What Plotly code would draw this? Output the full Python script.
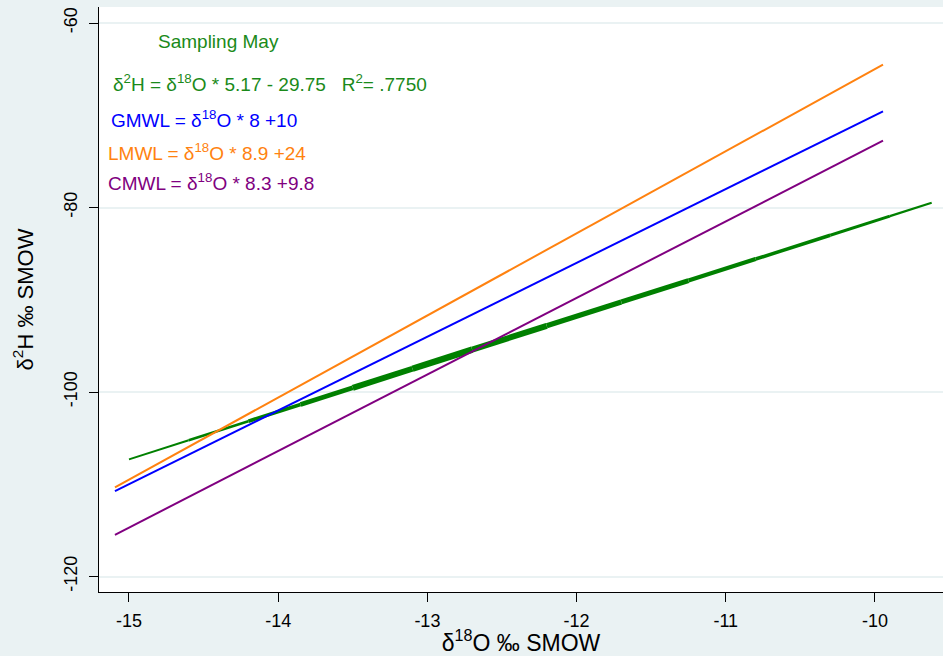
import plotly.graph_objects as go

# ---- data ----
mwl_names = ["GMWL", "LMWL", "CMWL"]
mwl_slopes = [8.0, 8.9, 8.3]
mwl_intercepts = [10.0, 24.0, 9.8]
mwl_x_start = [-15.094, -15.094, -15.094]
mwl_x_end = [-9.946, -9.946, -9.946]
mwl_colors = ["#0000FF", "#FF8210", "#800080"]

fit_slope = 5.17
fit_intercept = -29.75
# sampled d18O positions along the fitted line (line gets thicker where data are dense)
fit_x = [-15.0, -14.6, -14.2, -13.85, -13.5, -13.1, -12.7, -12.2, -11.7, -11.25, -10.8, -10.3, -9.9, -9.62]
fit_w = [2.0, 2.6, 3.6, 4.8, 6.0, 6.5, 6.0, 5.2, 5.0, 4.2, 3.6, 3.0, 2.2]

x_ticks = [-15, -14, -13, -12, -11, -10]
y_ticks = [-60, -80, -100, -120]

FONT = "Liberation Sans, Arial, sans-serif"
BG = "#EAF2F3"

fig = go.Figure()

# fitted (sampling) line, drawn in pieces of varying width
for i in range(len(fit_x) - 1):
    xs = [fit_x[i], fit_x[i + 1]]
    ys = [fit_slope * v + fit_intercept for v in xs]
    fig.add_trace(go.Scatter(x=xs, y=ys, mode="lines",
                             line=dict(color="#008000", width=fit_w[i]),
                             showlegend=False, hoverinfo="skip"))

for name, m, b, x0, x1, c in zip(mwl_names, mwl_slopes, mwl_intercepts,
                                 mwl_x_start, mwl_x_end, mwl_colors):
    xs = [x0, x1]
    ys = [m * v + b for v in xs]
    fig.add_trace(go.Scatter(x=xs, y=ys, mode="lines", name=name,
                             line=dict(color=c, width=2), showlegend=False))

ann_font = 19
annotations = [
    dict(x=-14.82, y=-61.95, text="Sampling May", color="#1A8A1A"),
    dict(x=-15.12, y=-66.45,
         text="δ<sup>2</sup>H = δ<sup>18</sup>O * 5.17 - 29.75   R<sup>2</sup>= .7750",
         color="#1A8A1A"),
    dict(x=-15.133, y=-70.45, text="GMWL = δ<sup>18</sup>O * 8 +10", color="#0000FF"),
    dict(x=-15.153, y=-73.95, text="LMWL = δ<sup>18</sup>O * 8.9 +24", color="#FF8210"),
    dict(x=-15.153, y=-77.25, text="CMWL = δ<sup>18</sup>O * 8.3 +9.8", color="#800080"),
]
for a in annotations:
    fig.add_annotation(x=a["x"], y=a["y"], text=a["text"], showarrow=False,
                       xanchor="left", yanchor="middle",
                       font=dict(family=FONT, size=ann_font, color=a["color"]))

fig.update_layout(
    width=943, height=656,
    margin=dict(l=99, r=0, t=7, b=64),
    paper_bgcolor=BG, plot_bgcolor="white",
    font=dict(family=FONT, size=18, color="black"),
    showlegend=False,
)
fig.update_xaxes(range=[-15.201, -9.544], tickvals=x_ticks,
                 ticktext=[str(v) for v in x_ticks],
                 showgrid=False, zeroline=False,
                 showline=True, linecolor="black", linewidth=1,
                 ticks="outside", ticklen=9, tickcolor="black",
                 tickfont=dict(size=18), ticklabelstandoff=3,
                 title=dict(text="δ<sup>18</sup>O ‰ SMOW", font=dict(size=23), standoff=0))
fig.update_yaxes(range=[-121.68, -58.26], tickvals=y_ticks,
                 ticktext=[str(v) for v in y_ticks],
                 showgrid=True, gridcolor=BG, gridwidth=1.5, zeroline=False,
                 showline=True, linecolor="black", linewidth=1,
                 ticks="outside", ticklen=9, tickcolor="black",
                 tickangle=-90, tickfont=dict(size=18), ticklabelstandoff=5,
                 title=dict(text="δ<sup>2</sup>H ‰ SMOW", font=dict(size=22), standoff=21))

fig.write_html("out.html")
